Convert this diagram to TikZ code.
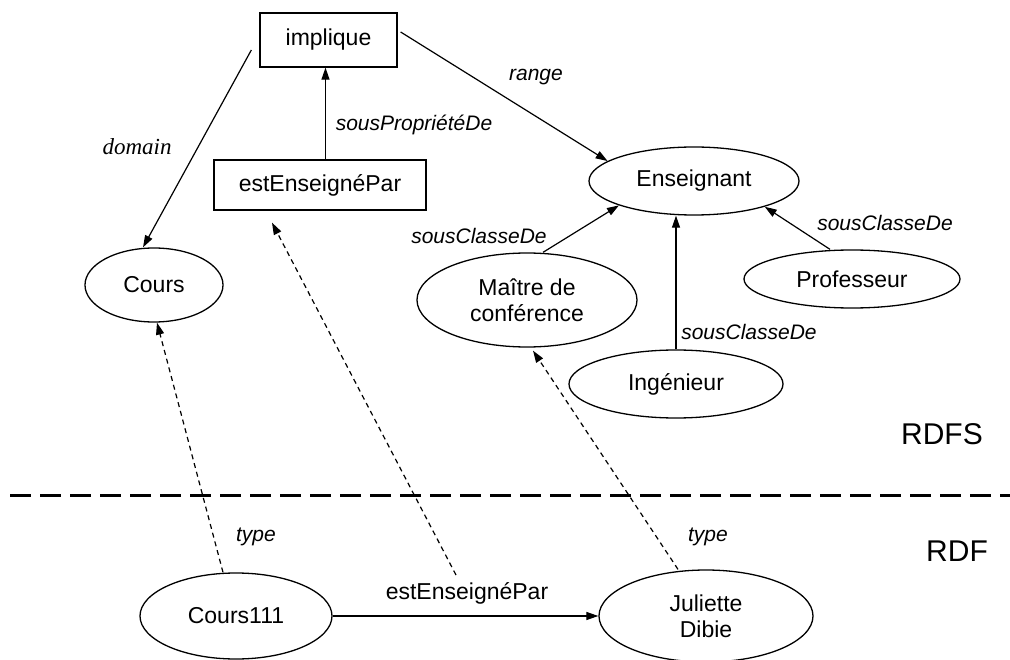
\documentclass[tikz,border=0pt]{standalone}
\usepackage{fontspec}
\setmainfont{Liberation Sans}
\newfontfamily\timesit{Liberation Serif}
\usetikzlibrary{shapes.geometric,arrows.meta}

\begin{document}
\begin{tikzpicture}[x=1pt,y=-1pt,
  base/.style={font=\fontsize{23}{26}\selectfont},
  cls/.style={base, draw, ellipse, inner sep=0pt, line width=1.3pt, align=center},
  prop/.style={base, draw, rectangle, inner sep=0pt, line width=1.3pt},
  lbl/.style={font=\fontsize{21}{24}\selectfont\itshape, inner sep=0pt},
  serlbl/.style={font=\fontsize{23}{26}\selectfont\timesit\itshape, inner sep=0pt},
  layer/.style={font=\fontsize{30}{34}\selectfont, inner sep=0pt},
  rel/.style={line width=1.2pt, -{Triangle[length=12pt,width=8pt]}},
  inst/.style={rel, dash pattern=on 5pt off 4pt},
  sep/.style={line width=3pt, dash pattern=on 21pt off 9pt}
]
\useasboundingbox (0,0) rectangle (1010,660);

% schema level (RDFS)
\node[prop, minimum width=137pt, minimum height=54pt] (impl) at (328.5,40) {implique};
\node[prop, minimum width=212pt, minimum height=50pt] (est) at (320,185) {estEnseignéPar};
\node[cls, minimum width=138pt, minimum height=74pt] (cours) at (154,285) {Cours};
\node[cls, minimum width=210pt, minimum height=68pt] (ens) at (694,181) {Enseignant};
\node[cls, minimum width=220pt, minimum height=94pt] (mdc) at (527,300) {Maître de\\conférence};
\node[cls, minimum width=216pt, minimum height=58pt] (prof) at (852,279) {Professeur};
\node[cls, minimum width=214pt, minimum height=68pt] (ing) at (676,384) {Ingénieur};

% instance level (RDF)
\node[cls, minimum width=192pt, minimum height=86pt] (c111) at (236,616) {Cours111};
\node[cls, minimum width=214pt, minimum height=92pt] (jd) at (706,616) {Juliette\\Dibie};

% layer separation
\coordinate (sepL) at (10,495);
\coordinate (sepR) at (1010,495);
\draw[sep] (sepL) -- (sepR);
\node[layer] (rdfs) at (942,434) {RDFS};
\node[layer] (rdf) at (957,551) {RDF};

% schema relations
\draw[rel] ([shift={(-8pt,-10pt)}]impl.west) -- ([xshift=-11pt]cours.north);
\draw[rel] ([shift={(3pt,8pt)}]impl.east) -- (ens.167);
\draw[rel] ([xshift=-3pt]impl.south |- est.north) -- ([xshift=-3pt]impl.south);
\draw[rel] ([xshift=16pt]mdc.north) -- (ens.-162);
\draw[rel] (ing.north) -- (ing.north |- ens.south);
\draw[rel] ([xshift=-22pt]prof.north) -- (ens.-20);

% instance relations
\coordinate (estFrom) at (456,575);
\draw[inst] ([xshift=-13pt]c111.north) -- ([xshift=3pt]cours.south);
\draw[inst] (estFrom) -- ([shift={(-48pt,-12pt)}]est.south);
\draw[inst] ([xshift=-28pt]jd.north) -- ([shift={(6pt,-3pt)}]mdc.south);
\draw[rel] (c111.east) -- (c111.east -| jd.west);

% edge labels
\node[serlbl] (lDomain) at (137,147) {domain};
\node[lbl] (lRange) at (536,77) {range};
\node[lbl] (lSousProp) at (414,125) {sousPropriétéDe};
\node[lbl] (lScMdc) at (479,236) {sousClasseDe};
\node[lbl] (lScProf) at (885,223) {sousClasseDe};
\node[lbl] (lScIng) at (749,332) {sousClasseDe};
\node[lbl] (lType1) at (256,537) {type};
\node[lbl] (lType2) at (708,537) {type};
\node[base, inner sep=0pt] (lEst) at (467,593) {estEnseignéPar};
\end{tikzpicture}
\end{document}
